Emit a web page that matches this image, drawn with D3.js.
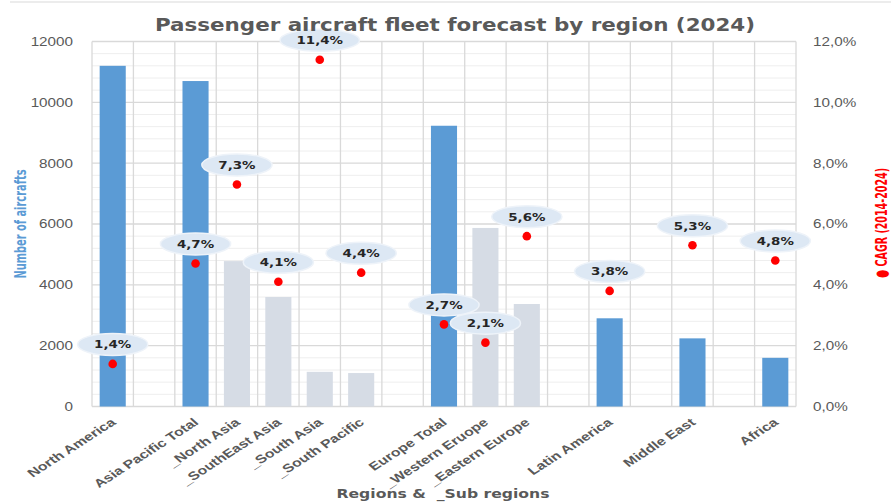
<!DOCTYPE html>
<html>
<head>
<meta charset="utf-8">
<script src="https://cdn.jsdelivr.net/npm/d3@7"></script>
<style>
  body { margin: 0; background: #fff; }
  svg { display: block; font-family: "DejaVu Sans", Verdana, sans-serif; }
</style>
</head>
<body>
<svg></svg>
<script>
const categories = ["North America", "", "Asia Pacific Total", "_North Asia", "_SouthEast Asia", "_South Asia",
  "_South Pacific", " ", "Europe Total", "_Western Eruope", "_Eastern Europe", "  ", "Latin America", "   ",
  "Middle East", "    ", "Africa"];
const fleet = [11200, null, 10700, 4780, 3600, 1140, 1100, null, 9230, 5870, 3370, null, 2900, null, 2240, null, 1600];
const cagr = [1.4, null, 4.7, 7.3, 4.1, 11.4, 4.4, null, 2.7, 2.1, 5.6, null, 3.8, null, 5.3, null, 4.8];
const isSub = [false, false, false, true, true, true, true, false, false, true, true, false, false, false, false, false, false];
const leftTicks = [0, 2000, 4000, 6000, 8000, 10000, 12000];
const rightTicks = [0, 2, 4, 6, 8, 10, 12];

const svg = d3.select("svg").attr("width", 891).attr("height", 503);
const margin = { top: 41.5, right: 95, bottom: 96.5, left: 92 };
const width = 891 - margin.left - margin.right;
const height = 503 - margin.top - margin.bottom;
const g = svg.append("g").attr("transform", `translate(${margin.left},${margin.top})`);

// the original picture is stretched sideways, so widen the text the same way
function stretch(sel, k) {
  sel.each(function () {
    const L = this.getComputedTextLength();
    d3.select(this).attr("textLength", L * k).attr("lengthAdjust", "spacingAndGlyphs");
  });
}

const x = d3.scaleBand().domain(categories).range([0, width]);
const y = d3.scaleLinear().domain([0, 12000]).range([height, 0]);
const y2 = d3.scaleLinear().domain([0, 12]).range([height, 0]);
const pct = d => d3.format(".1f")(d).replace(".", ",") + "%";

svg.append("line").attr("x1", 10).attr("x2", 891).attr("y1", 2).attr("y2", 2)
  .attr("stroke", "#d9d9d9");

// horizontal grid, minor every 400
g.selectAll(".hgrid").data(d3.range(0, 12001, 400)).enter().append("line")
  .attr("x1", 0).attr("x2", width)
  .attr("y1", d => y(d)).attr("y2", d => y(d))
  .attr("stroke", d => d % 2000 === 0 ? "#d9d9d9" : "#eeeeee")
  .attr("stroke-width", d => d % 2000 === 0 ? 1.3 : 1);

// vertical grid between categories
g.selectAll(".vgrid").data(d3.range(categories.length + 1)).enter().append("line")
  .attr("x1", i => i * x.step()).attr("x2", i => i * x.step())
  .attr("y1", 0).attr("y2", height)
  .attr("stroke", "#d9d9d9").attr("stroke-width", 1.3);

const barW = x.step() * 0.63;
g.selectAll(".bar").data(categories.map((c, i) => ({ c, v: fleet[i], sub: isSub[i] })).filter(d => d.v != null))
  .enter().append("rect")
  .attr("x", d => x(d.c) + (x.step() - barW) / 2)
  .attr("width", barW)
  .attr("y", d => y(d.v))
  .attr("height", d => height - y(d.v))
  .attr("fill", d => d.sub ? "#d6dce5" : "#5b9bd5");

const yl = g.append("g").call(d3.axisLeft(y).tickValues(leftTicks).tickSize(0).tickPadding(19).tickFormat(d3.format("d")))
  .call(a => a.select(".domain").remove())
  .selectAll("text").attr("fill", "#595959").style("font-size", "12px");
stretch(yl, 1.27);

const yr = g.append("g").attr("transform", `translate(${width},0)`)
  .call(d3.axisRight(y2).tickValues(rightTicks).tickSize(0).tickPadding(17).tickFormat(pct))
  .call(a => a.select(".domain").remove())
  .selectAll("text").attr("fill", "#595959").style("font-size", "12px");
stretch(yr, 1.27);

const xl = g.append("g").attr("transform", `translate(0,${height})`)
  .call(d3.axisBottom(x).tickSize(0).tickPadding(0))
  .call(a => a.select(".domain").remove())
  .selectAll("text")
  .attr("fill", "#595959").style("font-size", "11.5px").style("font-weight", "bold")
  .attr("text-anchor", "end")
  .attr("dy", "0")
  .attr("transform", "translate(4,17) scale(1.3,1) rotate(-40)");
stretch(xl, 1.07);

// CAGR dots with bubble labels
const pts = categories.map((c, i) => ({ c, v: cagr[i] })).filter(d => d.v != null);
g.selectAll(".dot").data(pts).enter().append("circle")
  .attr("cx", d => x(d.c) + x.step() / 2)
  .attr("cy", d => y2(d.v))
  .attr("r", 4.3)
  .attr("fill", "#ff0000");

const lab = g.selectAll(".lab").data(pts).enter().append("g")
  .attr("transform", d => `translate(${x(d.c) + x.step() / 2},${y2(d.v) - 19.5})`);
lab.append("ellipse").attr("ry", 11)
  .attr("fill", "#dde8f4").attr("stroke", "#eef3f9").attr("stroke-width", 1.5);
const labText = lab.append("text").attr("text-anchor", "middle").attr("dy", "0.36em")
  .attr("fill", "#262626").style("font-size", "11px").style("font-weight", "bold")
  .text(d => pct(d.v));
stretch(labText, 1.22);
labText.each(function () {
  const w = +d3.select(this).attr("textLength");
  d3.select(this.parentNode).select("ellipse").attr("rx", w / 2 + 16.5);
});

svg.append("text").attr("x", 455).attr("y", 31).attr("text-anchor", "middle")
  .attr("fill", "#595959").style("font-size", "18px").style("font-weight", "bold")
  .attr("textLength", 600).attr("lengthAdjust", "spacingAndGlyphs")
  .text("Passenger aircraft fleet forecast by region (2024)");

svg.append("text").attr("transform", "translate(26,224) scale(1.25,1) rotate(-90)").attr("text-anchor", "middle")
  .attr("fill", "#5b9bd5").style("font-size", "13px").style("font-weight", "bold")
  .style("font-family", "'Liberation Sans Narrow', 'DejaVu Sans Condensed', sans-serif")
  .attr("textLength", 109).attr("lengthAdjust", "spacingAndGlyphs")
  .text("Number of aircrafts");

svg.append("text").attr("transform", "translate(887,223) scale(1.25,1) rotate(-90)").attr("text-anchor", "middle")
  .attr("fill", "#ff0000").style("font-size", "13px").style("font-weight", "bold")
  .style("font-family", "'Liberation Sans Narrow', 'DejaVu Sans Condensed', sans-serif")
  .attr("textLength", 110).attr("lengthAdjust", "spacingAndGlyphs")
  .text("\u25CF CAGR (2014-2024)");

svg.append("text").attr("x", 443).attr("y", 498).attr("text-anchor", "middle")
  .attr("fill", "#595959").style("font-size", "13px").style("font-weight", "bold")
  .style("white-space", "pre")
  .attr("textLength", 213).attr("lengthAdjust", "spacingAndGlyphs")
  .text("Regions &  _Sub regions");
</script>
</body>
</html>
